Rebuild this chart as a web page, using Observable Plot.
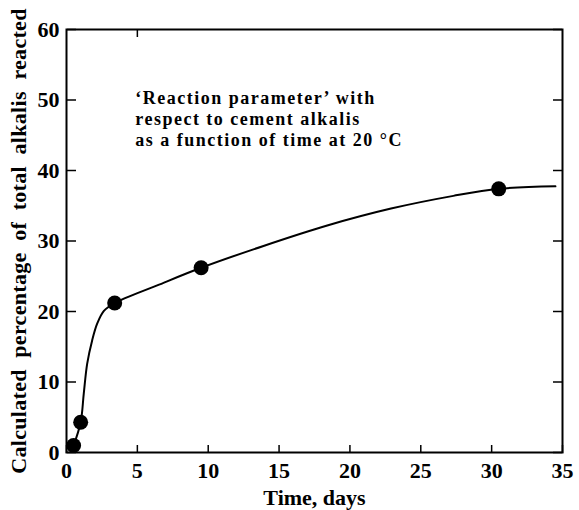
<!DOCTYPE html>
<html>
<head>
<meta charset="utf-8">
<script src="https://cdn.jsdelivr.net/npm/d3@7"></script>
<script src="https://cdn.jsdelivr.net/npm/@observablehq/plot@0.6"></script>
<style>
  html, body { margin: 0; padding: 0; background: #fff; }
  svg { display: block; }
  g[aria-label="text"] text { letter-spacing: 1.5px; }
  g[aria-label="y-axis label"] text { letter-spacing: 0.3px; }
</style>
</head>
<body>
<div id="chart"></div>
<script>
// Measured points
const pointTime = [0.5, 1.0, 3.4, 9.5, 30.5];
const pointPct  = [1.0, 4.3, 21.2, 26.2, 37.4];
// Fitted curve
const curveTime = [0.5, 1.0, 1.22, 1.46, 1.81, 2.17, 2.64, 3.4, 6.4, 9.5, 13.9, 18.4, 22.9, 27.3, 30.5, 34.5];
const curvePct  = [1.0, 4.3, 8.4, 12.6, 15.9, 18.3, 20.1, 21.2, 23.7, 26.2, 29.3, 32.2, 34.6, 36.4, 37.4, 37.75];
// Ticks
const xTicks = [0, 5, 10, 15, 20, 25, 30, 35];
const yTicks = [0, 10, 20, 30, 40, 50, 60];
const topTicks = [5];
const noteLines = [
  "\u2018Reaction parameter\u2019 with",
  "respect to cement alkalis",
  "as a function of time at 20 \u00B0C"
];
const noteX = [4.85, 4.85, 4.85];
const noteY = [50.3, 47.3, 44.3];

const points = pointTime.map((t, i) => ({t, p: pointPct[i]}));
const curve = curveTime.map((t, i) => ({t, p: curvePct[i]}));
const notes = noteLines.map((s, i) => ({s, x: noteX[i], y: noteY[i]}));

const font = "'Liberation Serif', 'DejaVu Serif', serif";
const blank = () => "";

const plot = Plot.plot({
  width: 579,
  height: 510,
  marginLeft: 66,
  marginRight: 17,
  marginTop: 29,
  marginBottom: 58,
  style: {fontFamily: font, fontSize: "21px", fontWeight: "bold", color: "#000", background: "#fff"},
  x: {domain: [0, 35]},
  y: {domain: [0, 60]},
  marks: [
    Plot.frame({stroke: "#000", strokeWidth: 2}),
    // inward ticks
    Plot.axisX({ticks: xTicks, anchor: "top", frameAnchor: "bottom", tickSize: 8, tickFormat: blank, label: null, strokeWidth: 1.5}),
    Plot.axisX({ticks: topTicks, anchor: "bottom", frameAnchor: "top", tickSize: 8, tickFormat: blank, label: null, strokeWidth: 1.5}),
    Plot.axisY({ticks: yTicks, anchor: "right", frameAnchor: "left", tickSize: 9, tickFormat: blank, label: null, strokeWidth: 1.5}),
    Plot.axisY({ticks: yTicks, anchor: "left", frameAnchor: "right", tickSize: 9, tickFormat: blank, label: null, strokeWidth: 1.5}),
    // labels
    Plot.axisX({ticks: xTicks, anchor: "bottom", tickSize: 0, tickPadding: 10, fontSize: 22, label: "Time, days", labelAnchor: "center", labelArrow: "none", labelOffset: 52}),
    Plot.axisY({ticks: yTicks, anchor: "left", tickSize: 0, tickPadding: 7, fontSize: 22, label: "Calculated  percentage  of  total  alkalis  reacted", labelAnchor: "center", labelArrow: "none", labelOffset: 56}),
    Plot.line(curve, {x: "t", y: "p", curve: "catmull-rom", stroke: "#000", strokeWidth: 2}),
    Plot.dot(points, {x: "t", y: "p", r: 7.5, fill: "#000", stroke: "none"}),
    Plot.text(notes, {x: "x", y: "y", text: "s", textAnchor: "start", fontSize: 18, fontWeight: "bold", fill: "#000"})
  ]
});
document.getElementById("chart").appendChild(plot);
</script>
</body>
</html>
